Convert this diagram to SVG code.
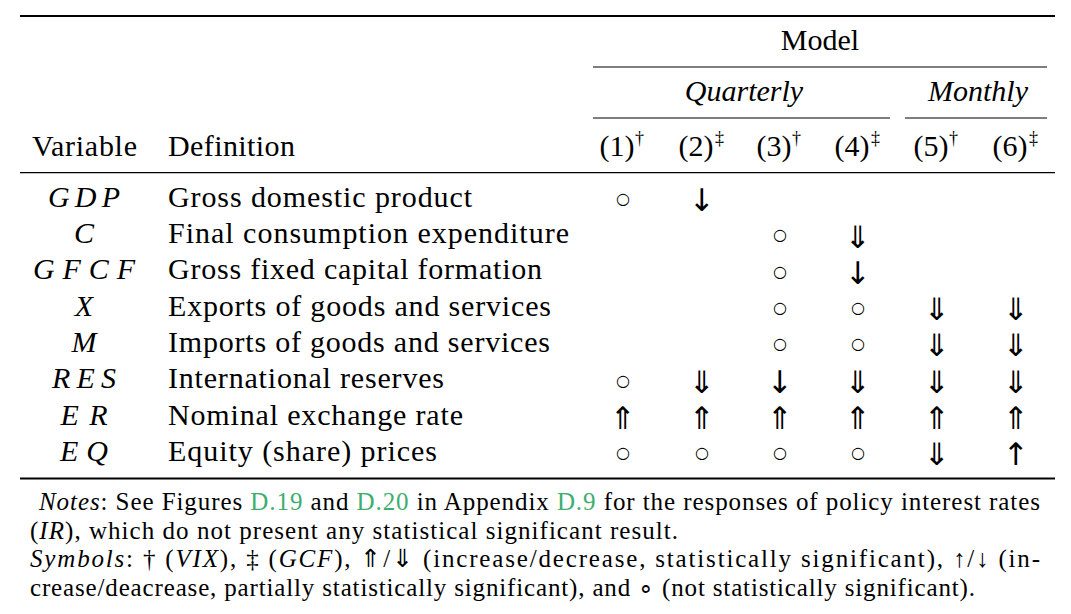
<svg xmlns="http://www.w3.org/2000/svg" width="1071" height="614" viewBox="0 0 1071 614">
<style>
text{font-family:'Liberation Serif','Times New Roman',serif;fill:#000}
.t{font-size:30px}
.n{font-size:25px}
.i{font-style:italic}
.c{text-anchor:middle}
.sup{font-size:18px}
.sym{font-family:'DejaVu Sans',sans-serif;font-size:31px;text-anchor:middle}
.cir{font-family:'DejaVu Sans',sans-serif;font-size:16px;text-anchor:middle}
.lnk{fill:#3dae6e}
.rule{stroke:#000}
</style>
<rect width="1071" height="614" fill="#fff"/>
<g id="rules">
<line class="rule" x1="20" y1="16" x2="1055" y2="16" stroke-width="2"/>
<line class="rule" x1="593" y1="67" x2="1047" y2="67" stroke-width="1.1"/>
<line class="rule" x1="593" y1="118" x2="890" y2="118" stroke-width="1.1"/>
<line class="rule" x1="905" y1="118" x2="1047" y2="118" stroke-width="1.1"/>
<line class="rule" x1="20" y1="172.7" x2="1055" y2="172.7" stroke-width="1.3"/>
<line class="rule" x1="20" y1="478.5" x2="1055" y2="478.5" stroke-width="2"/>
</g>
<g id="header">
<text class="t c" x="820" y="50">Model</text>
<text class="t c i" x="744" y="101">Quarterly</text>
<text class="t c i" x="978" y="101">Monthly</text>
<text class="t" x="32" y="155.7" textLength="105">Variable</text>
<text class="t" x="168" y="155.7" textLength="127">Definition</text>
<text class="t c" x="617" y="155.7">(1)</text><text class="sup" x="635" y="144">†</text>
<text class="t c" x="696" y="155.7">(2)</text><text class="sup" x="715" y="144">‡</text>
<text class="t c" x="774" y="155.7">(3)</text><text class="sup" x="792" y="144">†</text>
<text class="t c" x="852" y="155.7">(4)</text><text class="sup" x="871" y="144">‡</text>
<text class="t c" x="931" y="155.7">(5)</text><text class="sup" x="949" y="144">†</text>
<text class="t c" x="1010" y="155.7">(6)</text><text class="sup" x="1029" y="144">‡</text>
</g>
<g id="variables">
<text class="t c i" x="84" y="206.7" textLength="72">GDP</text>
<text class="t c i" x="84" y="243">C</text>
<text class="t c i" x="84" y="279.3" textLength="102">GFCF</text>
<text class="t c i" x="84" y="315.6">X</text>
<text class="t c i" x="84" y="351.9">M</text>
<text class="t c i" x="84" y="388.2" textLength="64">RES</text>
<text class="t c i" x="84" y="424.5" textLength="47">ER</text>
<text class="t c i" x="84" y="460.8" textLength="48">EQ</text>
</g>
<g id="definitions">
<text class="t" x="168" y="206.7" textLength="304">Gross domestic product</text>
<text class="t" x="168" y="243" textLength="401">Final consumption expenditure</text>
<text class="t" x="168" y="279.3" textLength="374">Gross fixed capital formation</text>
<text class="t" x="168" y="315.6" textLength="383">Exports of goods and services</text>
<text class="t" x="168" y="351.9" textLength="382">Imports of goods and services</text>
<text class="t" x="168" y="388.2" textLength="276">International reserves</text>
<text class="t" x="168" y="424.5" textLength="295">Nominal exchange rate</text>
<text class="t" x="168" y="460.8" textLength="269">Equity (share) prices</text>
</g>
<g id="cells">
<text class="cir" x="623" y="204">○</text><text class="sym" x="702" y="211.2">↓</text>
<text class="cir" x="780" y="240.3">○</text><text class="sym" x="858" y="247.5">⇓</text>
<text class="cir" x="780" y="276.6">○</text><text class="sym" x="858" y="283.8">↓</text>
<text class="cir" x="780" y="312.9">○</text><text class="cir" x="858" y="312.9">○</text><text class="sym" x="937" y="320.1">⇓</text><text class="sym" x="1016" y="320.1">⇓</text>
<text class="cir" x="780" y="349.2">○</text><text class="cir" x="858" y="349.2">○</text><text class="sym" x="937" y="356.4">⇓</text><text class="sym" x="1016" y="356.4">⇓</text>
<text class="cir" x="623" y="385.5">○</text><text class="sym" x="702" y="392.7">⇓</text><text class="sym" x="780" y="392.7">↓</text><text class="sym" x="858" y="392.7">⇓</text><text class="sym" x="937" y="392.7">⇓</text><text class="sym" x="1016" y="392.7">⇓</text>
<text class="sym" x="623" y="429">⇑</text><text class="sym" x="702" y="429">⇑</text><text class="sym" x="780" y="429">⇑</text><text class="sym" x="858" y="429">⇑</text><text class="sym" x="937" y="429">⇑</text><text class="sym" x="1016" y="429">⇑</text>
<text class="cir" x="623" y="458.1">○</text><text class="cir" x="702" y="458.1">○</text><text class="cir" x="780" y="458.1">○</text><text class="cir" x="858" y="458.1">○</text><text class="sym" x="937" y="465.3">⇓</text><text class="sym" x="1016" y="465.3">↑</text>
</g>
<g id="notes">
<text class="n" x="39" y="510" textLength="1001"><tspan class="i">Notes</tspan>: See Figures <tspan class="lnk">D.19</tspan> and <tspan class="lnk">D.20</tspan> in Appendix <tspan class="lnk">D.9</tspan> for the responses of policy interest rates</text>
<text class="n" x="30" y="538.5" textLength="648">(<tspan class="i">IR</tspan>), which do not present any statistical significant result.</text>
<text class="n" x="30" y="567" textLength="1010"><tspan class="i">Symbols</tspan>: † (<tspan class="i">VIX</tspan>), ‡ (<tspan class="i">GCF</tspan>), ⇑/⇓ (increase/decrease, statistically significant), ↑/↓ (in-</text>
<text class="n" x="30" y="595.5" textLength="945">crease/deacrease, partially statistically significant), and ∘ (not statistically significant).</text>
</g>
</svg>
